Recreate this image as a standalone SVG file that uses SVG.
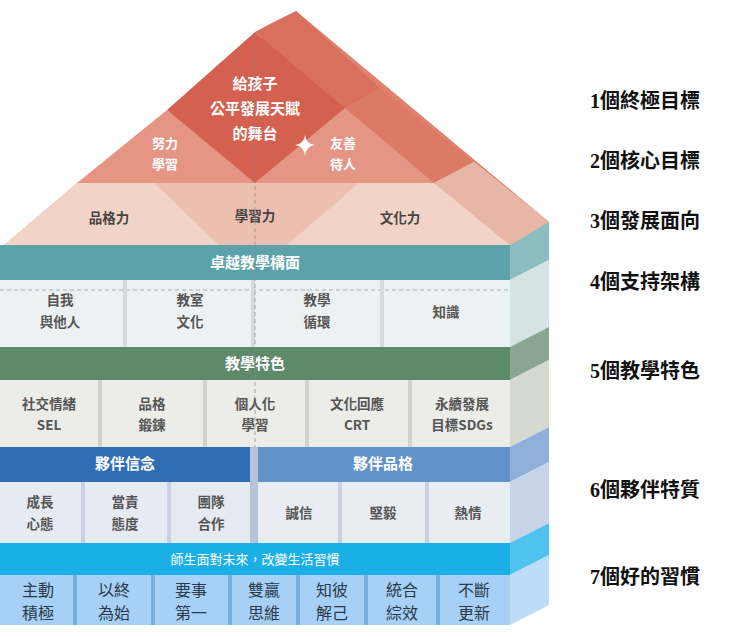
<svg xmlns="http://www.w3.org/2000/svg" width="740" height="637" viewBox="0 0 740 637">
<style>
text{font-family:"Noto Sans CJK TC","Noto Sans",sans-serif;text-anchor:middle}
.w{fill:#fff;font-weight:bold;font-size:15px}
.r{fill:#fff;font-size:13px;font-weight:bold}
.g{fill:#444;font-size:13.5px;font-weight:bold}
.c{fill:#555;font-size:13.5px;font-weight:bold}
.b{fill:#2a3a4a;font-size:16px}
.lab{font-family:"Liberation Serif","Noto Sans CJK TC",serif;font-weight:bold;font-size:20px;fill:#111;text-anchor:start}
.sep{stroke-width:4}
</style>
<rect width="740" height="637" fill="#fff"/>
<g id="roof">
<polygon points="4,245 296,11 549,222 510,245" fill="#e0826f"/>
<polygon points="270,24 296,11 380,88 345,108 255,32" fill="#d9705e"/>
<polygon points="255,32 345,108 255,183 167,110" fill="#d4604f"/>
<polygon points="345,108 380,88 474,162 434,183" fill="#dc7a68"/>
<polygon points="167,110 255,183 77,183" fill="#e49584"/>
<polygon points="345,108 434,183 255,183" fill="#e49584"/>
<polygon points="77,183 434,183 474,162 549,222 510,245 4,245" fill="#ecbfb1"/>
<polygon points="77,183 154,183 219,245 4,245" fill="#f2d3c8"/>
<polygon points="359,183 434,183 510,245 287,245" fill="#f2d3c8"/>
<polygon points="434,183 474,162 549,222 510,245" fill="#e8b6a7"/>
<text class="w" x="255" y="89">給孩子</text>
<text class="w" x="255" y="114">公平發展天賦</text>
<text class="w" x="255" y="139">的舞台</text>
<text class="r" x="165" y="148">努力</text>
<text class="r" x="165" y="169">學習</text>
<text class="r" x="343" y="148">友善</text>
<text class="r" x="343" y="169">待人</text>
<path d="M305,135 Q306,144 315,145 Q306,146 305,156 Q304,146 295,145 Q304,144 305,135Z" fill="#fff"/>
<text class="g" x="109" y="223">品格力</text>
<text class="g" x="255" y="221">學習力</text>
<text class="g" x="400" y="223">文化力</text>
</g>
<g id="structure">
<rect x="0" y="245" width="510" height="35" fill="#5ba3a8"/>
<polygon points="510,245 549,222 549,260 510,280" fill="#8bbcbf"/>
<text class="w" x="255" y="268">卓越教學構面</text>
<rect x="0" y="280" width="510" height="67" fill="#eef1f1"/>
<polygon points="510,280 549,260 549,327 510,347" fill="#d5e3e4"/>
<line x1="0" y1="290" x2="510" y2="290" stroke="#aab" stroke-dasharray="4,3"/>
<g stroke="#d3dbdb" class="sep"><line x1="125" y1="280" x2="125" y2="347"/><line x1="253" y1="280" x2="253" y2="347"/><line x1="382" y1="280" x2="382" y2="347"/></g>
<text class="c" x="60" y="305">自我</text><text class="c" x="60" y="327">與他人</text>
<text class="c" x="190" y="305">教室</text><text class="c" x="190" y="327">文化</text>
<text class="c" x="317" y="305">教學</text><text class="c" x="317" y="327">循環</text>
<text class="c" x="446" y="317">知識</text>
<rect x="0" y="347" width="510" height="33" fill="#5e8a6c"/>
<polygon points="510,347 549,327 549,360 510,380" fill="#8aa592"/>
<text class="w" x="255" y="369">教學特色</text>
<rect x="0" y="380" width="510" height="67" fill="#ececE8"/>
<polygon points="510,380 549,360 549,427 510,447" fill="#d6d9d0"/>
<g stroke="#d2d4cc" class="sep"><line x1="100" y1="380" x2="100" y2="447"/><line x1="205" y1="380" x2="205" y2="447"/><line x1="307" y1="380" x2="307" y2="447"/><line x1="410" y1="380" x2="410" y2="447"/></g>
<text class="c" x="49" y="409">社交情緒</text><text class="c" x="49" y="430">SEL</text>
<text class="c" x="152" y="409">品格</text><text class="c" x="152" y="430">鍛鍊</text>
<text class="c" x="255" y="409">個人化</text><text class="c" x="255" y="430">學習</text>
<text class="c" x="357" y="409">文化回應</text><text class="c" x="357" y="430">CRT</text>
<text class="c" x="462" y="409">永續發展</text><text class="c" x="462" y="430">目標SDGs</text>
<rect x="0" y="447" width="250" height="35" fill="#2f6db5"/>
<rect x="250" y="447" width="8" height="96" fill="#b4c2dc"/>
<rect x="258" y="447" width="252" height="35" fill="#6193c9"/>
<polygon points="510,447 549,427 549,462 510,482" fill="#8fb0d8"/>
<text class="w" x="125" y="469">夥伴信念</text>
<text class="w" x="383" y="469">夥伴品格</text>
<rect x="0" y="482" width="250" height="61" fill="#e6eaf2"/>
<rect x="258" y="482" width="252" height="61" fill="#e9ecf3"/>
<polygon points="510,482 549,462 549,523 510,543" fill="#c9d3e8"/>
<g stroke="#c9d1e3" class="sep"><line x1="83" y1="482" x2="83" y2="543"/><line x1="169" y1="482" x2="169" y2="543"/><line x1="340" y1="482" x2="340" y2="543"/><line x1="427" y1="482" x2="427" y2="543"/></g>
<text class="c" x="40" y="507">成長</text><text class="c" x="40" y="529">心態</text>
<text class="c" x="125" y="507">當責</text><text class="c" x="125" y="529">態度</text>
<text class="c" x="211" y="507">團隊</text><text class="c" x="211" y="529">合作</text>
<text class="c" x="299" y="518">誠信</text>
<text class="c" x="383" y="518">堅毅</text>
<text class="c" x="468" y="518">熱情</text>
<rect x="0" y="543" width="510" height="32" fill="#1ab0e6"/>
<polygon points="510,543 549,523 549,555 510,575" fill="#4fc3ee"/>
<text x="255" y="564" style="fill:#fff;font-size:13px">師生面對未來，改變生活習慣</text>
<rect x="0" y="575" width="510" height="50" fill="#a6d0f5"/>
<polygon points="510,575 549,555 549,605 510,625" fill="#bcdcf8"/>
<g stroke="#78aee0" class="sep"><line x1="75" y1="575" x2="75" y2="625"/><line x1="153" y1="575" x2="153" y2="625"/><line x1="230" y1="575" x2="230" y2="625"/><line x1="298" y1="575" x2="298" y2="625"/><line x1="366" y1="575" x2="366" y2="625"/><line x1="438" y1="575" x2="438" y2="625"/></g>
<text class="b" x="38" y="596">主動</text><text class="b" x="38" y="619">積極</text>
<text class="b" x="114" y="596">以終</text><text class="b" x="114" y="619">為始</text>
<text class="b" x="191" y="596">要事</text><text class="b" x="191" y="619">第一</text>
<text class="b" x="264" y="596">雙贏</text><text class="b" x="264" y="619">思維</text>
<text class="b" x="332" y="596">知彼</text><text class="b" x="332" y="619">解己</text>
<text class="b" x="402" y="596">統合</text><text class="b" x="402" y="619">綜效</text>
<text class="b" x="474" y="596">不斷</text><text class="b" x="474" y="619">更新</text>
</g>
<g id="connectors">
<line x1="255" y1="32" x2="255" y2="447" stroke="#8a8a8a" stroke-width="1" stroke-dasharray="4,3" opacity="0.7"/>
</g>
<g id="labels">
<text class="lab" x="590" y="108">1個終極目標</text>
<text class="lab" x="590" y="168">2個核心目標</text>
<text class="lab" x="590" y="228">3個發展面向</text>
<text class="lab" x="590" y="289">4個支持架構</text>
<text class="lab" x="590" y="378">5個教學特色</text>
<text class="lab" x="590" y="497">6個夥伴特質</text>
<text class="lab" x="590" y="584">7個好的習慣</text>
</g>
</svg>
